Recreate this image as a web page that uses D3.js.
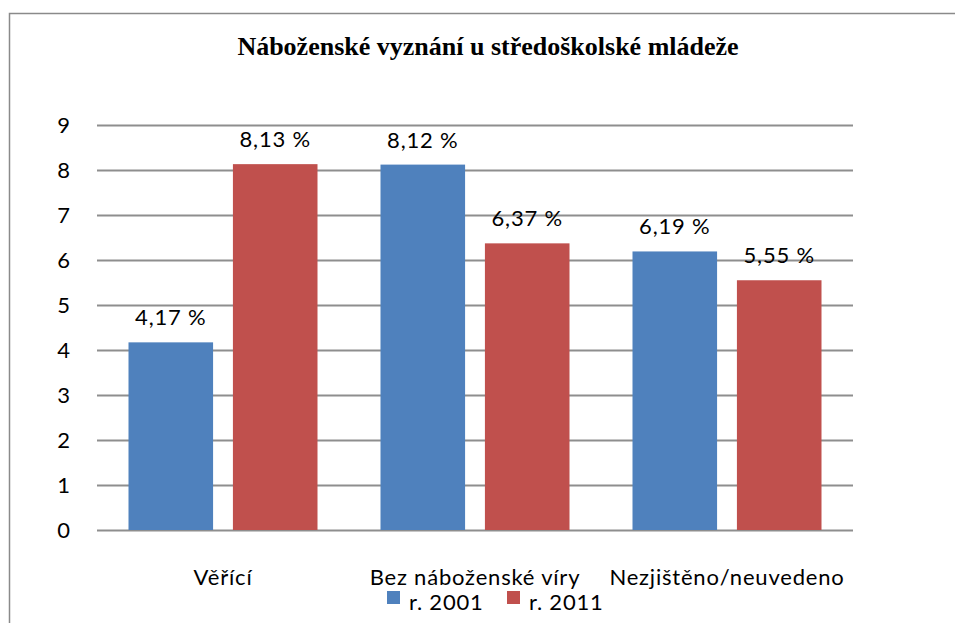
<!DOCTYPE html>
<html>
<head>
<meta charset="utf-8">
<script src="https://cdn.jsdelivr.net/npm/d3@7"></script>
<style>
    body { margin: 0; background: #fff; }
    text { font-family: Lato, "Open Sans", sans-serif; fill: #000; }
</style>
</head>
<body>
<div id="chart"></div>
<script>
const categories = ["Věřící", "Bez náboženské víry", "Nezjištěno/neuvedeno"];
const seriesNames = ["r. 2001", "r. 2011"];
const values2001 = [4.17, 8.12, 6.19];
const values2011 = [8.13, 6.37, 5.55];
const yTicks = [0, 1, 2, 3, 4, 5, 6, 7, 8, 9];
const colors = ["#4F81BD", "#C0504D"];

const ctx = { WIDTH: 955, HEIGHT: 623 };
const plot = { left: 97, right: 853, top: 125, bottom: 530 };
const fontSize = '22px';
const spacing = '0.8px';

const svg = d3.select('#chart').append('svg')
    .attr('width', ctx.WIDTH)
    .attr('height', ctx.HEIGHT);

// chart frame (only left and top edges visible in the picture)
svg.append('path')
    .attr('d', `M9.5,${ctx.HEIGHT} V13.5 H${ctx.WIDTH}`)
    .attr('fill', 'none')
    .attr('stroke', '#8a8a8a')
    .attr('stroke-width', 1.5);

svg.append('text')
    .attr('x', 488)
    .attr('y', 55)
    .attr('text-anchor', 'middle')
    .style('font-family', '"Liberation Serif", "Times New Roman", serif')
    .style('font-weight', 'bold')
    .style('font-size', '26px')
    .text('Náboženské vyznání u středoškolské mládeže');

const yScale = d3.scaleLinear()
    .domain([0, 9])
    .range([plot.bottom, plot.top]);

const xScale = d3.scaleBand()
    .domain(categories)
    .range([plot.left, plot.right])
    .paddingInner(0.25)
    .paddingOuter(0.125);

const xSub = d3.scaleBand()
    .domain(seriesNames)
    .range([0, xScale.bandwidth()])
    .paddingInner(0.19);

// gridlines + tick labels
const yAxis = d3.axisLeft(yScale)
    .tickValues(yTicks)
    .tickSize(-(plot.right - plot.left))
    .tickPadding(27)
    .tickFormat(d3.format('d'));

const gy = svg.append('g')
    .attr('transform', `translate(${plot.left}, 0)`)
    .call(yAxis);
gy.select('.domain').remove();
gy.selectAll('.tick line')
    .attr('stroke', '#8e8e8e')
    .attr('stroke-width', 2);
gy.selectAll('.tick text')
    .attr('dy', '0.35em')
    .style('font-size', fontSize)
    .style('font-family', 'Lato, sans-serif');

const table = categories.map((c, i) => ({ cat: c, vals: [values2001[i], values2011[i]] }));

const groups = svg.selectAll('.grp')
    .data(table)
    .enter()
    .append('g')
    .attr('transform', d => `translate(${xScale(d.cat)}, 0)`);

groups.selectAll('rect')
    .data(d => d.vals.map((v, j) => ({ s: seriesNames[j], v: v, j: j })))
    .enter()
    .append('rect')
    .attr('x', d => xSub(d.s))
    .attr('y', d => yScale(d.v))
    .attr('width', xSub.bandwidth())
    .attr('height', d => yScale(0) - yScale(d.v))
    .attr('fill', d => colors[d.j]);

groups.selectAll('.lbl')
    .data(d => d.vals.map((v, j) => ({ s: seriesNames[j], v: v })))
    .enter()
    .append('text')
    .attr('class', 'lbl')
    .attr('x', d => xSub(d.s) + xSub.bandwidth() / 2)
    .attr('y', d => yScale(d.v) - 17)
    .attr('text-anchor', 'middle')
    .style('font-size', fontSize)
    .style('letter-spacing', spacing)
    .text(d => d.v.toFixed(2).replace('.', ',') + ' %');

// category labels
svg.selectAll('.cat')
    .data(categories)
    .enter()
    .append('text')
    .attr('x', d => xScale(d) + xScale.bandwidth() / 2)
    .attr('y', 585)
    .attr('text-anchor', 'middle')
    .style('font-size', fontSize)
    .style('letter-spacing', spacing)
    .text(d => d);

// legend
const legend = svg.append('g');
const legendX = [387, 507];
seriesNames.forEach((s, i) => {
    legend.append('rect')
        .attr('x', legendX[i])
        .attr('y', 591)
        .attr('width', 13)
        .attr('height', 13)
        .attr('fill', colors[i]);
    legend.append('text')
        .attr('x', legendX[i] + 22)
        .attr('y', 610)
        .style('font-size', fontSize)
        .style('letter-spacing', spacing)
        .text(s);
});
</script>
</body>
</html>
